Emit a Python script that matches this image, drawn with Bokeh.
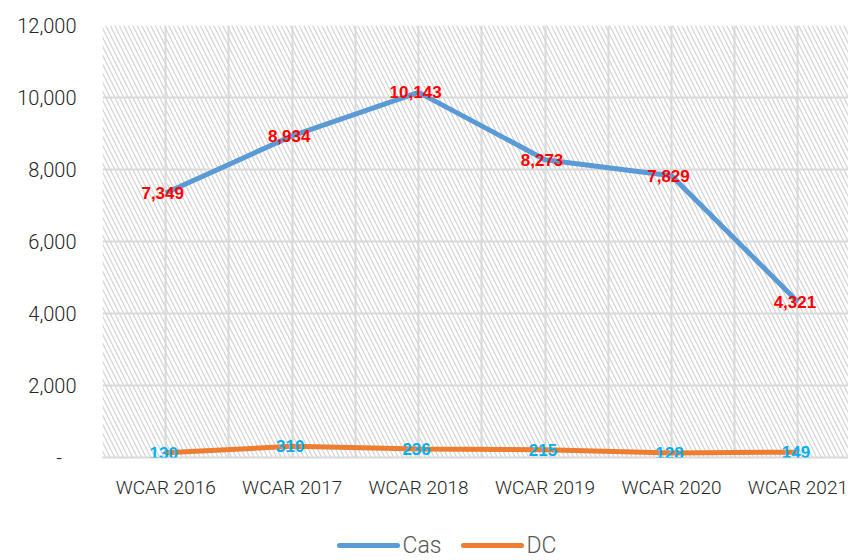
from bokeh.plotting import figure
from bokeh.layouts import column
from bokeh.models import ColumnDataSource, Range1d, FixedTicker, LabelSet
from bokeh.core.properties import value
from bokeh.embed import file_html
from bokeh.resources import INLINE

categories = ["WCAR 2016", "WCAR 2017", "WCAR 2018", "WCAR 2019", "WCAR 2020", "WCAR 2021"]
cas = [7349, 8934, 10143, 8273, 7829, 4321]
dc = [130, 310, 236, 215, 128, 149]
y_ticks = [0, 2000, 4000, 6000, 8000, 10000, 12000]
y_tick_labels = ["-   ", "2,000", "4,000", "6,000", "8,000", "10,000", "12,000"]
series_names = ["Cas", "DC"]
series_colors = ["#5B9BD5", "#ED7D31"]

LIGHT = "'Roboto Light', Roboto"

xs = list(range(len(categories)))
src = ColumnDataSource(dict(
    x=xs, cas=cas, dc=dc,
    cas_lbl=[f"{v:,}" for v in cas],
    dc_lbl=[f"{v:,}" for v in dc],
))

p = figure(width=848, height=508, output_backend="svg", toolbar_location=None,
           x_range=Range1d(-0.5, 5.40), y_range=Range1d(0, 12000),
           min_border_left=102, min_border_right=0, min_border_top=25, min_border_bottom=51)
p.outline_line_color = None
p.background_fill_color = "white"

# hatched plot area
p.quad(left=[-0.5], right=[6.0], bottom=[0], top=[12000], fill_color="white",
       line_color=None, hatch_pattern="\\", hatch_color="#d6d6d6",
       hatch_scale=9, hatch_weight=1.3, level="image")

p.xgrid.ticker = FixedTicker(ticks=[-0.5 + 0.5 * i for i in range(13)])
p.xgrid.grid_line_color = "#d9d9d9"
p.xgrid.grid_line_width = 2
p.ygrid.ticker = FixedTicker(ticks=y_ticks)
p.ygrid.grid_line_color = "#d9d9d9"
p.ygrid.grid_line_width = 2

p.xaxis.ticker = FixedTicker(ticks=xs)
p.xaxis.major_label_overrides = {i: c for i, c in enumerate(categories)}
p.yaxis.ticker = FixedTicker(ticks=y_ticks)
p.yaxis.major_label_overrides = {t: l for t, l in zip(y_ticks, y_tick_labels)}

for ax in (p.xaxis, p.yaxis):
    ax.major_tick_line_color = None
    ax.minor_tick_line_color = None
    ax.major_label_text_font = LIGHT
    ax.major_label_text_color = "#262626"
p.xaxis.major_label_text_font_size = "19px"
p.yaxis.major_label_text_font_size = "20px"
p.yaxis.axis_line_color = None
p.yaxis.major_label_standoff = 20
p.xaxis.axis_line_color = "#d9d9d9"
p.xaxis.axis_line_width = 2
p.xaxis.major_label_standoff = 12

p.line("x", "cas", source=src, line_color=series_colors[0], line_width=5)
p.line("x", "dc", source=src, line_color=series_colors[1], line_width=5)

p.add_layout(LabelSet(x="x", y="cas", text="cas_lbl", source=src, text_align="center",
                      text_baseline="middle", text_color="#FF0000",
                      text_font=value("Liberation Sans"),
                      text_font_style="bold", text_font_size="17px", x_offset=-3))
p.add_layout(LabelSet(x="x", y="dc", text="dc_lbl", source=src, text_align="center",
                      text_baseline="middle", text_color="#00B0F0",
                      text_font=value("Liberation Sans"),
                      text_font_style="bold", text_font_size="17px", x_offset=-2))

# legend strip below; its frame is aligned with the main frame (x from 102 to 848)
lg = figure(width=848, height=52, output_backend="svg", toolbar_location=None,
            x_axis_type=None, y_axis_type=None, x_range=Range1d(102, 848), y_range=Range1d(0, 52),
            min_border_left=0, min_border_right=0, min_border_top=0, min_border_bottom=0)
lg.outline_line_color = None
lg.xgrid.visible = False
lg.ygrid.visible = False
key_x0 = [339, 463]
key_len = 58
lg.segment(x0=key_x0, y0=[15, 15], x1=[x + key_len for x in key_x0], y1=[15, 15],
           line_color=series_colors, line_width=5, line_cap="round")
lg.text(x=[x + key_len + 5 for x in key_x0], y=[15, 15], text=series_names,
        text_font=value(LIGHT), text_font_size="23px", text_color="#595959",
        text_baseline="middle", text_align="left")

open("out.html", "w").write(file_html(column(p, lg), INLINE))
